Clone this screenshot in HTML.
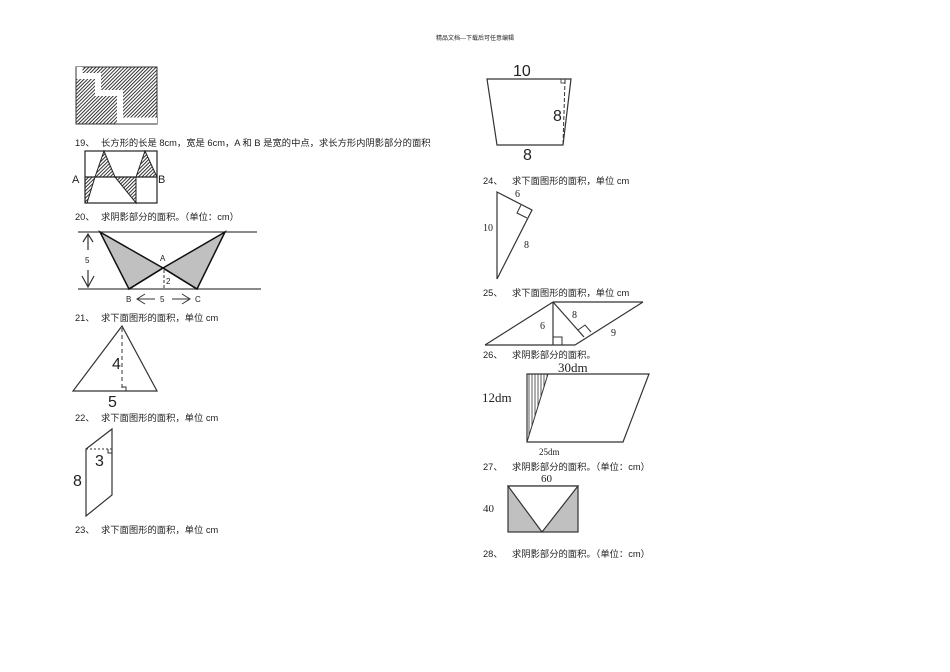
<!DOCTYPE html>
<html><head><meta charset="utf-8"><style>
html,body{margin:0;padding:0;background:#fff;}
svg{display:block;}
.t{font-family:"Liberation Sans","Noto Sans CJK SC",sans-serif;font-size:9.3px;fill:#222;}
.s{font-family:"Liberation Serif",serif;fill:#222;}
.a{font-family:"Liberation Sans",sans-serif;fill:#222;}
</style></head><body>
<svg width="950" height="672" viewBox="0 0 950 672" xmlns="http://www.w3.org/2000/svg">
<defs>
<pattern id="h" patternUnits="userSpaceOnUse" width="2.5" height="2.5" patternTransform="rotate(45)">
<rect width="2.5" height="2.5" fill="#fff"/><line x1="0" y1="0" x2="0" y2="2.5" stroke="#111" stroke-width="1.7"/></pattern>
<pattern id="v" patternUnits="userSpaceOnUse" width="3" height="3"><line x1="1" y1="0" x2="1" y2="3" stroke="#333" stroke-width="0.8"/></pattern>
</defs>
<text x="475" y="40" text-anchor="middle" class="t" style="font-size:6px">精品文档---下载后可任意编辑</text>

<!-- fig 18 -->
<rect x="76" y="67" width="81" height="57" fill="url(#h)" stroke="#333" stroke-width="1"/>
<polyline points="79.5,67 79.5,76 98,76 98,93 120,93 120,120.5 157,120.5" fill="none" stroke="#fff" stroke-width="6"/>

<text x="75" y="146" class="t">19、</text><text x="101" y="146" class="t">长方形的长是 8cm，宽是 6cm，A 和 B 是宽的中点，求长方形内阴影部分的面积</text>
<!-- fig 19 -->
<polygon points="95,177 104,151 115,177" fill="url(#h)" stroke="#222"/>
<polygon points="136,177 145,151 157,177" fill="url(#h)" stroke="#222"/>
<polygon points="85,177 95,177 87,203 85,203" fill="url(#h)" stroke="#222"/>
<polygon points="115,177 136,177 136,203" fill="url(#h)" stroke="#222"/>
<rect x="85" y="151" width="72" height="52" fill="none" stroke="#222" stroke-width="1.2"/>
<line x1="85" y1="177" x2="157" y2="177" stroke="#222" stroke-width="1.2"/>
<text x="72" y="183" class="a" style="font-size:11px">A</text><text x="158" y="183" class="a" style="font-size:11px">B</text>

<text x="75" y="220" class="t">20、</text><text x="101" y="220" class="t">求阴影部分的面积。（单位：cm）</text>
<!-- fig 20 -->
<line x1="78" y1="232" x2="257" y2="232" stroke="#444" stroke-width="1.2"/>
<line x1="78" y1="289" x2="261" y2="289" stroke="#444" stroke-width="1.2"/>
<polygon points="100,232 163,268 129,289" fill="#c0c0c0" stroke="#111" stroke-width="1.5"/>
<polygon points="225,232 163,268 197,289" fill="#c0c0c0" stroke="#111" stroke-width="1.5"/>
<line x1="163" y1="268" x2="197" y2="289" stroke="#111" stroke-width="1.5"/>
<line x1="163" y1="268" x2="129" y2="289" stroke="#111" stroke-width="1.5"/>
<line x1="164" y1="270" x2="164" y2="289" stroke="#333" stroke-dasharray="3,2"/>
<path d="M88,234 V250 M83,242 L88,234 L93,242 M88,270 V287 M82,276 L88,287 L94,276" stroke="#333" fill="none" stroke-width="1.2"/>
<text x="85" y="263" class="a" style="font-size:8px">5</text>
<text x="160" y="261" class="a" style="font-size:8px">A</text>
<text x="166" y="284" class="a" style="font-size:8px">2</text>
<text x="126" y="302" class="a" style="font-size:8px">B</text>
<path d="M137,299 H155 M145,294 L137,299 L145,304 M172,299 H190 M182,294 L190,299 L182,304" stroke="#333" fill="none"/>
<text x="160" y="302" class="a" style="font-size:8px">5</text>
<text x="195" y="302" class="a" style="font-size:8px">C</text>

<text x="75" y="321" class="t">21、</text><text x="101" y="321" class="t">求下面图形的面积，单位 cm</text>
<!-- fig 21 -->
<polygon points="122,326 73,391 157,391" fill="none" stroke="#333" stroke-width="1.2"/>
<line x1="122" y1="328" x2="122" y2="391" stroke="#333" stroke-dasharray="4,3"/>
<path d="M122,387 H126 V391" fill="none" stroke="#333"/>
<text x="112" y="369" class="a" style="font-size:16px">4</text>
<text x="108" y="407" class="a" style="font-size:16px">5</text>

<text x="75" y="421" class="t">22、</text><text x="101" y="421" class="t">求下面图形的面积，单位 cm</text>
<!-- fig 22 -->
<polygon points="86,449 112,429 112,495 86,516" fill="none" stroke="#333" stroke-width="1.2"/>
<line x1="86" y1="449" x2="112" y2="449" stroke="#333" stroke-dasharray="2,2"/>
<path d="M108,449 V453 H112" fill="none" stroke="#333"/>
<text x="95" y="466" class="a" style="font-size:16px">3</text>
<text x="73" y="486" class="a" style="font-size:16px">8</text>

<text x="75" y="533" class="t">23、</text><text x="101" y="533" class="t">求下面图形的面积，单位 cm</text>

<!-- fig 23 -->
<polygon points="487,79 571,79 563,145 497,145" fill="none" stroke="#333" stroke-width="1.2"/>
<line x1="565" y1="80" x2="563" y2="145" stroke="#333" stroke-dasharray="4,2"/>
<rect x="561" y="79" width="4" height="4" fill="none" stroke="#333" stroke-width="0.8"/>
<text x="513" y="76" class="a" style="font-size:16px">10</text>
<text x="553" y="121" class="a" style="font-size:16px">8</text>
<text x="523" y="160" class="a" style="font-size:16px">8</text>

<text x="483" y="184" class="t">24、</text><text x="512" y="184" class="t">求下面图形的面积，单位 cm</text>
<!-- fig 24 -->
<polygon points="497,192 532,210 497,279" fill="none" stroke="#333" stroke-width="1.2"/>
<path d="M521,205 L517,213 L527,218" fill="none" stroke="#333"/>
<text x="515" y="197" class="s" style="font-size:10px">6</text>
<text x="483" y="231" class="s" style="font-size:10px">10</text>
<text x="524" y="248" class="s" style="font-size:10px">8</text>

<text x="483" y="296" class="t">25、</text><text x="512" y="296" class="t">求下面图形的面积，单位 cm</text>
<!-- fig 25 -->
<line x1="553" y1="302" x2="643" y2="302" stroke="#333" stroke-width="1.2"/>
<line x1="485" y1="345" x2="575" y2="345" stroke="#333" stroke-width="1.2"/>
<line x1="485" y1="345" x2="553" y2="302" stroke="#333" stroke-width="1.2"/>
<line x1="575" y1="345" x2="643" y2="302" stroke="#333" stroke-width="1.2"/>
<line x1="553" y1="302" x2="553" y2="345" stroke="#333" stroke-width="1.2"/>
<line x1="553" y1="302" x2="584" y2="337" stroke="#333" stroke-width="1.2"/>
<rect x="553" y="337" width="9" height="8" fill="none" stroke="#333"/>
<path d="M578,330 L585,325 L591,332" fill="none" stroke="#333"/>
<text x="540" y="329" class="s" style="font-size:10px">6</text>
<text x="572" y="318" class="s" style="font-size:10px">8</text>
<text x="611" y="336" class="s" style="font-size:10px">9</text>

<text x="483" y="358" class="t">26、</text><text x="512" y="358" class="t">求阴影部分的面积。</text>
<!-- fig 26 -->
<polygon points="527,374 548,374 527,442" fill="url(#v)" stroke="#333"/>
<polygon points="527,374 649,374 623,442 527,442" fill="none" stroke="#333" stroke-width="1.2"/>
<text x="558" y="372" class="s" style="font-size:13px">30dm</text>
<text x="482" y="402" class="s" style="font-size:13px">12dm</text>
<text x="539" y="455" class="s" style="font-size:9px">25dm</text>

<text x="483" y="470" class="t">27、</text><text x="512" y="470" class="t">求阴影部分的面积。（单位：cm）</text>
<!-- fig 27 -->
<rect x="508" y="486" width="70" height="46" fill="#c0c0c0" stroke="#333" stroke-width="1.2"/>
<polygon points="508,486 578,486 542,532" fill="#fff" stroke="#333" stroke-width="1.2"/>
<text x="541" y="482" class="s" style="font-size:11px">60</text>
<text x="483" y="512" class="s" style="font-size:11px">40</text>

<text x="483" y="557" class="t">28、</text><text x="512" y="557" class="t">求阴影部分的面积。（单位：cm）</text>
</svg>
</body></html>
